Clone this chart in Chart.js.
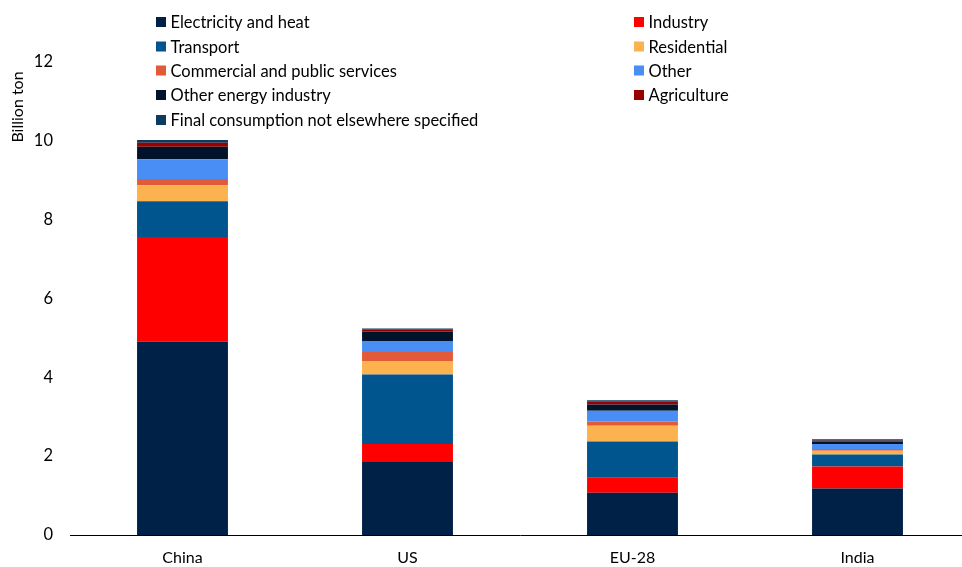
<!DOCTYPE html>
<html>
<head>
<meta charset="utf-8">
<script src="https://cdn.jsdelivr.net/npm/chart.js@4"></script>
<style>
  html, body { margin: 0; padding: 0; background: #fff; overflow: hidden; width: 962px; height: 567px; }
  #wrap { width: 972px; height: 567px; position: relative; }
</style>
</head>
<body>
<div id="wrap"><canvas id="c" width="972" height="567"></canvas></div>
<script>
const categories = ["China", "US", "EU-28", "India"];
const electricityHeat = [4.90, 1.85, 1.07, 1.18];
const industry        = [2.66, 0.46, 0.38, 0.56];
const transport       = [0.91, 1.76, 0.92, 0.30];
const residential     = [0.40, 0.33, 0.40, 0.10];
const commercial      = [0.16, 0.24, 0.11, 0.04];
const other           = [0.50, 0.28, 0.27, 0.13];
const otherEnergy     = [0.32, 0.24, 0.16, 0.06];
const agriculture     = [0.10, 0.06, 0.07, 0.02];
const finalConsumption= [0.07, 0.02, 0.04, 0.04];
const yTicks = [0, 2, 4, 6, 8, 10, 12];

const seriesNames = ["Electricity and heat", "Industry", "Transport", "Residential",
  "Commercial and public services", "Other", "Other energy industry", "Agriculture",
  "Final consumption not elsewhere specified"];
const seriesData = [electricityHeat, industry, transport, residential, commercial,
  other, otherEnergy, agriculture, finalConsumption];
const seriesColors = ["#002147", "#ff0000", "#00558f", "#fbb24f", "#e35a38",
  "#488ef4", "#01122b", "#990000", "#0c3b60"];

const FONT = "Lato, 'Open Sans', sans-serif";

const legendPlugin = {
  id: 'customLegend',
  afterDraw(chart) {
    const ctx = chart.ctx;
    ctx.save();
    ctx.font = "16.5px " + FONT;
    ctx.textBaseline = 'middle';
    const cols = [156, 634];
    const rows = [22, 46.5, 70.5, 95, 120];
    chart.data.datasets.forEach((ds, i) => {
      const col = i % 2, row = Math.floor(i / 2);
      const x = cols[col], y = rows[row];
      ctx.fillStyle = ds.backgroundColor;
      ctx.fillRect(x, y - 5, 10, 10);
      ctx.fillStyle = '#000';
      ctx.textAlign = 'left';
      ctx.fillText(ds.label, x + 14.5, y + 1);
    });
    // y axis title
    ctx.translate(18, 107);
    ctx.rotate(-Math.PI / 2);
    ctx.textAlign = 'center';
    ctx.font = "16px " + FONT;
    ctx.fillText("Billion ton", 0, 0);
    ctx.restore();
  }
};

new Chart(document.getElementById('c'), {
  type: 'bar',
  data: {
    labels: categories,
    datasets: seriesNames.map((n, i) => ({
      label: n,
      data: seriesData[i],
      backgroundColor: seriesColors[i],
      borderWidth: 0,
      categoryPercentage: 1,
      barPercentage: 0.404
    }))
  },
  options: {
    responsive: false,
    animation: false,
    layout: { padding: { left: 0, top: 62, right: 2, bottom: 0 } },
    plugins: { legend: { display: false }, tooltip: { enabled: false } },
    scales: {
      x: {
        stacked: true,
        grid: { display: false, drawTicks: false },
        border: { display: true, color: '#000', width: 1 },
        ticks: { color: '#000', font: { size: 16, family: FONT }, padding: 13 },
        afterFit(s) { s.height = 32; }
      },
      y: {
        stacked: true,
        min: 0, max: 12,
        afterBuildTicks(s) { s.ticks = yTicks.map(v => ({ value: v })); },
        grid: { display: false, drawTicks: false },
        border: { display: false },
        ticks: { color: '#000', font: { size: 16.5, family: FONT }, padding: 17 },
        afterFit(s) { s.width = 70; }
      }
    }
  },
  plugins: [legendPlugin]
});
</script>
</body>
</html>
